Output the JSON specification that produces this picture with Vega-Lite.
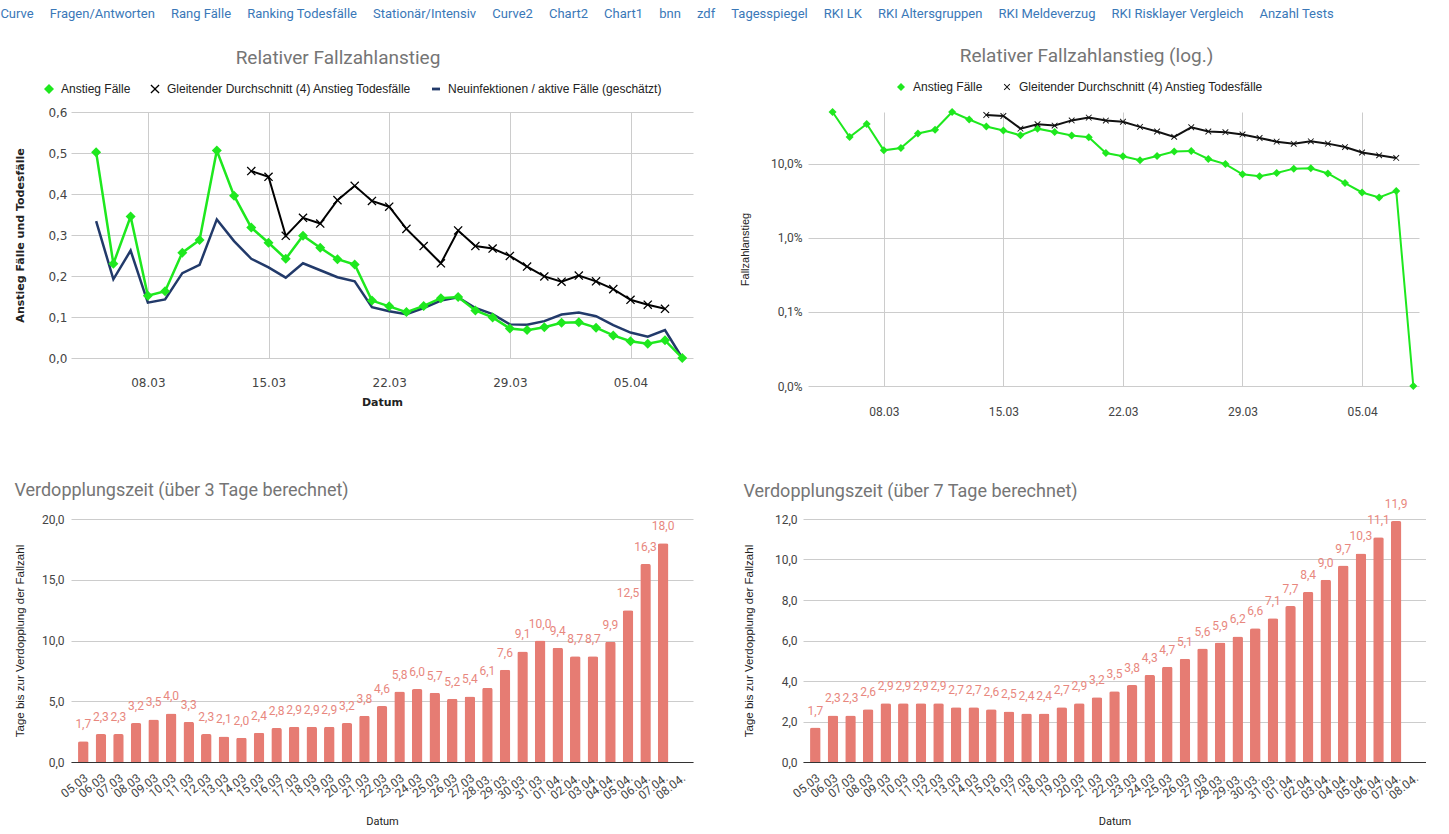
{
  "$schema": "https://vega.github.io/schema/vega-lite/v6.json",
  "background": "#ffffff",
  "padding": {"left": 0, "top": 8, "right": 0, "bottom": 0},
  "config": {
    "locale": {"number": {"decimal": ",", "thousands": ".", "grouping": [3], "currency": ["", " €"]}},
    "view": {"stroke": null},
    "axis": {"domain": false, "ticks": false, "gridColor": "#cccccc", "labelColor": "#444444", "titleColor": "#222222", "labelFont": "Roboto", "titleFont": "Roboto", "labelFontSize": 12, "titleFontWeight": "normal"},
    "legend": {"labelLimit": 400, "direction": "horizontal", "labelFont": "Liberation Sans", "labelFontSize": 12, "labelColor": "#222222", "symbolSize": 100, "columnPadding": 18, "labelOffset": 6, "symbolStrokeWidth": 0}
  },
  "title": {"text": "Curve\u00a0\u00a0\u00a0\u00a0\u00a0Fragen/Antworten\u00a0\u00a0\u00a0\u00a0\u00a0Rang Fälle\u00a0\u00a0\u00a0\u00a0\u00a0Ranking Todesfälle\u00a0\u00a0\u00a0\u00a0\u00a0Stationär/Intensiv\u00a0\u00a0\u00a0\u00a0\u00a0Curve2\u00a0\u00a0\u00a0\u00a0\u00a0Chart2\u00a0\u00a0\u00a0\u00a0\u00a0Chart1\u00a0\u00a0\u00a0\u00a0\u00a0bnn\u00a0\u00a0\u00a0\u00a0\u00a0zdf\u00a0\u00a0\u00a0\u00a0\u00a0Tagesspiegel\u00a0\u00a0\u00a0\u00a0\u00a0RKI LK\u00a0\u00a0\u00a0\u00a0\u00a0RKI Altersgruppen\u00a0\u00a0\u00a0\u00a0\u00a0RKI Meldeverzug\u00a0\u00a0\u00a0\u00a0\u00a0RKI Risklayer Vergleich\u00a0\u00a0\u00a0\u00a0\u00a0Anzahl Tests", "anchor": "start", "frame": "bounds", "font": "Roboto", "fontSize": 13, "fontWeight": "normal", "color": "#3a78b8", "dx": -14, "offset": 26},
  "datasets": {
    "rel": [
      {"date": "2020-03-05", "series": "Anstieg Fälle", "value": 0.502},
      {"date": "2020-03-06", "series": "Anstieg Fälle", "value": 0.230},
      {"date": "2020-03-07", "series": "Anstieg Fälle", "value": 0.345},
      {"date": "2020-03-08", "series": "Anstieg Fälle", "value": 0.152},
      {"date": "2020-03-09", "series": "Anstieg Fälle", "value": 0.163},
      {"date": "2020-03-10", "series": "Anstieg Fälle", "value": 0.257},
      {"date": "2020-03-11", "series": "Anstieg Fälle", "value": 0.288},
      {"date": "2020-03-12", "series": "Anstieg Fälle", "value": 0.506},
      {"date": "2020-03-13", "series": "Anstieg Fälle", "value": 0.396},
      {"date": "2020-03-14", "series": "Anstieg Fälle", "value": 0.318},
      {"date": "2020-03-15", "series": "Anstieg Fälle", "value": 0.281},
      {"date": "2020-03-16", "series": "Anstieg Fälle", "value": 0.242},
      {"date": "2020-03-17", "series": "Anstieg Fälle", "value": 0.298},
      {"date": "2020-03-18", "series": "Anstieg Fälle", "value": 0.269},
      {"date": "2020-03-19", "series": "Anstieg Fälle", "value": 0.241},
      {"date": "2020-03-20", "series": "Anstieg Fälle", "value": 0.228},
      {"date": "2020-03-21", "series": "Anstieg Fälle", "value": 0.140},
      {"date": "2020-03-22", "series": "Anstieg Fälle", "value": 0.126},
      {"date": "2020-03-23", "series": "Anstieg Fälle", "value": 0.112},
      {"date": "2020-03-24", "series": "Anstieg Fälle", "value": 0.127},
      {"date": "2020-03-25", "series": "Anstieg Fälle", "value": 0.146},
      {"date": "2020-03-26", "series": "Anstieg Fälle", "value": 0.149},
      {"date": "2020-03-27", "series": "Anstieg Fälle", "value": 0.116},
      {"date": "2020-03-28", "series": "Anstieg Fälle", "value": 0.099},
      {"date": "2020-03-29", "series": "Anstieg Fälle", "value": 0.072},
      {"date": "2020-03-30", "series": "Anstieg Fälle", "value": 0.068},
      {"date": "2020-03-31", "series": "Anstieg Fälle", "value": 0.075},
      {"date": "2020-04-01", "series": "Anstieg Fälle", "value": 0.086},
      {"date": "2020-04-02", "series": "Anstieg Fälle", "value": 0.087},
      {"date": "2020-04-03", "series": "Anstieg Fälle", "value": 0.074},
      {"date": "2020-04-04", "series": "Anstieg Fälle", "value": 0.055},
      {"date": "2020-04-05", "series": "Anstieg Fälle", "value": 0.041},
      {"date": "2020-04-06", "series": "Anstieg Fälle", "value": 0.035},
      {"date": "2020-04-07", "series": "Anstieg Fälle", "value": 0.043},
      {"date": "2020-04-08", "series": "Anstieg Fälle", "value": 0},
      {"date": "2020-03-14", "series": "Gleitender Durchschnitt (4) Anstieg Todesfälle", "value": 0.456},
      {"date": "2020-03-15", "series": "Gleitender Durchschnitt (4) Anstieg Todesfälle", "value": 0.442},
      {"date": "2020-03-16", "series": "Gleitender Durchschnitt (4) Anstieg Todesfälle", "value": 0.298},
      {"date": "2020-03-17", "series": "Gleitender Durchschnitt (4) Anstieg Todesfälle", "value": 0.342},
      {"date": "2020-03-18", "series": "Gleitender Durchschnitt (4) Anstieg Todesfälle", "value": 0.328},
      {"date": "2020-03-19", "series": "Gleitender Durchschnitt (4) Anstieg Todesfälle", "value": 0.385},
      {"date": "2020-03-20", "series": "Gleitender Durchschnitt (4) Anstieg Todesfälle", "value": 0.420},
      {"date": "2020-03-21", "series": "Gleitender Durchschnitt (4) Anstieg Todesfälle", "value": 0.383},
      {"date": "2020-03-22", "series": "Gleitender Durchschnitt (4) Anstieg Todesfälle", "value": 0.369},
      {"date": "2020-03-23", "series": "Gleitender Durchschnitt (4) Anstieg Todesfälle", "value": 0.315},
      {"date": "2020-03-24", "series": "Gleitender Durchschnitt (4) Anstieg Todesfälle", "value": 0.273},
      {"date": "2020-03-25", "series": "Gleitender Durchschnitt (4) Anstieg Todesfälle", "value": 0.231},
      {"date": "2020-03-26", "series": "Gleitender Durchschnitt (4) Anstieg Todesfälle", "value": 0.311},
      {"date": "2020-03-27", "series": "Gleitender Durchschnitt (4) Anstieg Todesfälle", "value": 0.273},
      {"date": "2020-03-28", "series": "Gleitender Durchschnitt (4) Anstieg Todesfälle", "value": 0.267},
      {"date": "2020-03-29", "series": "Gleitender Durchschnitt (4) Anstieg Todesfälle", "value": 0.249},
      {"date": "2020-03-30", "series": "Gleitender Durchschnitt (4) Anstieg Todesfälle", "value": 0.223},
      {"date": "2020-03-31", "series": "Gleitender Durchschnitt (4) Anstieg Todesfälle", "value": 0.199},
      {"date": "2020-04-01", "series": "Gleitender Durchschnitt (4) Anstieg Todesfälle", "value": 0.186},
      {"date": "2020-04-02", "series": "Gleitender Durchschnitt (4) Anstieg Todesfälle", "value": 0.201},
      {"date": "2020-04-03", "series": "Gleitender Durchschnitt (4) Anstieg Todesfälle", "value": 0.187},
      {"date": "2020-04-04", "series": "Gleitender Durchschnitt (4) Anstieg Todesfälle", "value": 0.168},
      {"date": "2020-04-05", "series": "Gleitender Durchschnitt (4) Anstieg Todesfälle", "value": 0.142},
      {"date": "2020-04-06", "series": "Gleitender Durchschnitt (4) Anstieg Todesfälle", "value": 0.130},
      {"date": "2020-04-07", "series": "Gleitender Durchschnitt (4) Anstieg Todesfälle", "value": 0.120},
      {"date": "2020-03-05", "series": "Neuinfektionen / aktive Fälle (geschätzt)", "value": 0.334},
      {"date": "2020-03-06", "series": "Neuinfektionen / aktive Fälle (geschätzt)", "value": 0.192},
      {"date": "2020-03-07", "series": "Neuinfektionen / aktive Fälle (geschätzt)", "value": 0.262},
      {"date": "2020-03-08", "series": "Neuinfektionen / aktive Fälle (geschätzt)", "value": 0.135},
      {"date": "2020-03-09", "series": "Neuinfektionen / aktive Fälle (geschätzt)", "value": 0.143},
      {"date": "2020-03-10", "series": "Neuinfektionen / aktive Fälle (geschätzt)", "value": 0.207},
      {"date": "2020-03-11", "series": "Neuinfektionen / aktive Fälle (geschätzt)", "value": 0.227},
      {"date": "2020-03-12", "series": "Neuinfektionen / aktive Fälle (geschätzt)", "value": 0.338},
      {"date": "2020-03-13", "series": "Neuinfektionen / aktive Fälle (geschätzt)", "value": 0.285},
      {"date": "2020-03-14", "series": "Neuinfektionen / aktive Fälle (geschätzt)", "value": 0.242},
      {"date": "2020-03-15", "series": "Neuinfektionen / aktive Fälle (geschätzt)", "value": 0.221},
      {"date": "2020-03-16", "series": "Neuinfektionen / aktive Fälle (geschätzt)", "value": 0.196},
      {"date": "2020-03-17", "series": "Neuinfektionen / aktive Fälle (geschätzt)", "value": 0.231},
      {"date": "2020-03-18", "series": "Neuinfektionen / aktive Fälle (geschätzt)", "value": 0.214},
      {"date": "2020-03-19", "series": "Neuinfektionen / aktive Fälle (geschätzt)", "value": 0.197},
      {"date": "2020-03-20", "series": "Neuinfektionen / aktive Fälle (geschätzt)", "value": 0.187},
      {"date": "2020-03-21", "series": "Neuinfektionen / aktive Fälle (geschätzt)", "value": 0.124},
      {"date": "2020-03-22", "series": "Neuinfektionen / aktive Fälle (geschätzt)", "value": 0.114},
      {"date": "2020-03-23", "series": "Neuinfektionen / aktive Fälle (geschätzt)", "value": 0.107},
      {"date": "2020-03-24", "series": "Neuinfektionen / aktive Fälle (geschätzt)", "value": 0.122},
      {"date": "2020-03-25", "series": "Neuinfektionen / aktive Fälle (geschätzt)", "value": 0.140},
      {"date": "2020-03-26", "series": "Neuinfektionen / aktive Fälle (geschätzt)", "value": 0.148},
      {"date": "2020-03-27", "series": "Neuinfektionen / aktive Fälle (geschätzt)", "value": 0.122},
      {"date": "2020-03-28", "series": "Neuinfektionen / aktive Fälle (geschätzt)", "value": 0.107},
      {"date": "2020-03-29", "series": "Neuinfektionen / aktive Fälle (geschätzt)", "value": 0.082},
      {"date": "2020-03-30", "series": "Neuinfektionen / aktive Fälle (geschätzt)", "value": 0.081},
      {"date": "2020-03-31", "series": "Neuinfektionen / aktive Fälle (geschätzt)", "value": 0.090},
      {"date": "2020-04-01", "series": "Neuinfektionen / aktive Fälle (geschätzt)", "value": 0.106},
      {"date": "2020-04-02", "series": "Neuinfektionen / aktive Fälle (geschätzt)", "value": 0.111},
      {"date": "2020-04-03", "series": "Neuinfektionen / aktive Fälle (geschätzt)", "value": 0.102},
      {"date": "2020-04-04", "series": "Neuinfektionen / aktive Fälle (geschätzt)", "value": 0.080},
      {"date": "2020-04-05", "series": "Neuinfektionen / aktive Fälle (geschätzt)", "value": 0.062},
      {"date": "2020-04-06", "series": "Neuinfektionen / aktive Fälle (geschätzt)", "value": 0.052},
      {"date": "2020-04-07", "series": "Neuinfektionen / aktive Fälle (geschätzt)", "value": 0.068},
      {"date": "2020-04-08", "series": "Neuinfektionen / aktive Fälle (geschätzt)", "value": 0}
    ],
    "dbl": [
      {"day": "05.03", "d3": 1.7, "d7": 1.7},
      {"day": "06.03", "d3": 2.3, "d7": 2.3},
      {"day": "07.03", "d3": 2.3, "d7": 2.3},
      {"day": "08.03", "d3": 3.2, "d7": 2.6},
      {"day": "09.03", "d3": 3.5, "d7": 2.9},
      {"day": "10.03", "d3": 4.0, "d7": 2.9},
      {"day": "11.03", "d3": 3.3, "d7": 2.9},
      {"day": "12.03", "d3": 2.3, "d7": 2.9},
      {"day": "13.03", "d3": 2.1, "d7": 2.7},
      {"day": "14.03", "d3": 2.0, "d7": 2.7},
      {"day": "15.03", "d3": 2.4, "d7": 2.6},
      {"day": "16.03", "d3": 2.8, "d7": 2.5},
      {"day": "17.03", "d3": 2.9, "d7": 2.4},
      {"day": "18.03", "d3": 2.9, "d7": 2.4},
      {"day": "19.03", "d3": 2.9, "d7": 2.7},
      {"day": "20.03", "d3": 3.2, "d7": 2.9},
      {"day": "21.03", "d3": 3.8, "d7": 3.2},
      {"day": "22.03", "d3": 4.6, "d7": 3.5},
      {"day": "23.03", "d3": 5.8, "d7": 3.8},
      {"day": "24.03", "d3": 6.0, "d7": 4.3},
      {"day": "25.03", "d3": 5.7, "d7": 4.7},
      {"day": "26.03", "d3": 5.2, "d7": 5.1},
      {"day": "27.03", "d3": 5.4, "d7": 5.6},
      {"day": "28.03.", "d3": 6.1, "d7": 5.9},
      {"day": "29.03.", "d3": 7.6, "d7": 6.2},
      {"day": "30.03.", "d3": 9.1, "d7": 6.6},
      {"day": "31.03.", "d3": 10.0, "d7": 7.1},
      {"day": "01.04.", "d3": 9.4, "d7": 7.7},
      {"day": "02.04.", "d3": 8.7, "d7": 8.4},
      {"day": "03.04.", "d3": 8.7, "d7": 9.0},
      {"day": "04.04.", "d3": 9.9, "d7": 9.7},
      {"day": "05.04.", "d3": 12.5, "d7": 10.3},
      {"day": "06.04.", "d3": 16.3, "d7": 11.1},
      {"day": "07.04.", "d3": 18.0, "d7": 11.9},
      {"day": "08.04.", "d3": null, "d7": null}
    ]
  },
  "spacing": 65,
  "resolve": {"scale": {"color": "independent", "shape": "independent", "size": "independent"}, "legend": {"color": "independent", "shape": "independent", "size": "independent"}},
  "vconcat": [
    {
      "spacing": 46,
      "resolve": {"scale": {"color": "independent", "shape": "independent", "size": "independent"}, "legend": {"color": "independent", "shape": "independent", "size": "independent"}},
      "hconcat": [
        {
          "width": 622,
          "height": 246,
          "title": {"text": "Relativer Fallzahlanstieg", "font": "Roboto", "fontSize": 19, "fontWeight": "normal", "color": "#757575", "anchor": "middle", "frame": "group", "dx": -44, "offset": 15},
          "data": {"name": "rel"},
          "encoding": {
            "x": {"field": "date", "type": "temporal",
              "scale": {"type": "utc", "domain": [{"year": 2020, "month": 3, "date": 3, "hours": 13, "utc": true}, {"year": 2020, "month": 4, "date": 8, "hours": 15, "utc": true}]},
              "axis": {"values": [{"year": 2020, "month": 3, "date": 8, "utc": true}, {"year": 2020, "month": 3, "date": 15, "utc": true}, {"year": 2020, "month": 3, "date": 22, "utc": true}, {"year": 2020, "month": 3, "date": 29, "utc": true}, {"year": 2020, "month": 4, "date": 5, "utc": true}],
                "format": "%d.%m", "grid": true, "title": "Datum", "titleFont": "DejaVu Sans", "titleFontWeight": "bold", "titleFontSize": 11, "labelFont": "DejaVu Sans", "labelFontSize": 12, "labelPadding": 19, "titlePadding": 8}},
            "y": {"field": "value", "type": "quantitative", "scale": {"domain": [0, 0.6]},
              "axis": {"values": [0, 0.1, 0.2, 0.3, 0.4, 0.5, 0.6], "format": ".1f", "title": "Anstieg Fälle und Todesfälle", "titleFont": "DejaVu Sans", "titleFontWeight": "bold", "titleFontSize": 11, "labelFont": "DejaVu Sans", "labelFontSize": 12, "labelPadding": 4, "titlePadding": 22}}
          },
          "layer": [
            {
              "transform": [{"filter": "datum.series == 'Neuinfektionen / aktive Fälle (geschätzt)'"}],
              "mark": {"type": "line", "color": "#223a6a", "strokeWidth": 2.5}
            },
            {
              "transform": [{"filter": "datum.series == 'Anstieg Fälle'"}],
              "mark": {"type": "line", "color": "#1ee81e", "strokeWidth": 2.5}
            },
            {
              "transform": [{"filter": "datum.series == 'Gleitender Durchschnitt (4) Anstieg Todesfälle'"}],
              "mark": {"type": "line", "color": "#000000", "strokeWidth": 2}
            },
            {
              "transform": [{"filter": "datum.series != 'Neuinfektionen / aktive Fälle (geschätzt)'"}],
              "mark": {"type": "point", "filled": true, "opacity": 1},
              "encoding": {
                "color": {"field": "series", "type": "nominal", "title": null, "scale": {"domain": ["Anstieg Fälle", "Gleitender Durchschnitt (4) Anstieg Todesfälle", "Neuinfektionen / aktive Fälle (geschätzt)"], "range": ["#1ee81e", "#000000", "#223a6a"]},
                  "legend": {"orient": "none", "legendX": -28, "legendY": -29, "direction": "horizontal"}},
                "shape": {"field": "series", "type": "nominal", "title": null, "scale": {"domain": ["Anstieg Fälle", "Gleitender Durchschnitt (4) Anstieg Todesfälle", "Neuinfektionen / aktive Fälle (geschätzt)"], "range": ["diamond", "M-1,-0.8L-0.8,-1L0,-0.2L0.8,-1L1,-0.8L0.2,0L1,0.8L0.8,1L0,0.2L-0.8,1L-1,0.8L-0.2,0Z", "M-1,-0.35L1,-0.35L1,0.35L-1,0.35Z"]},
                  "legend": {"orient": "none", "legendX": -28, "legendY": -29, "direction": "horizontal"}},
                "size": {"field": "series", "type": "nominal", "title": null, "scale": {"domain": ["Anstieg Fälle", "Gleitender Durchschnitt (4) Anstieg Todesfälle", "Neuinfektionen / aktive Fälle (geschätzt)"], "range": [100, 64, 110]},
                  "legend": {"orient": "none", "legendX": -28, "legendY": -29, "direction": "horizontal"}}
              }
            }
          ]
        },
        {
          "width": 611,
          "height": 274,
          "title": {"text": "Relativer Fallzahlanstieg (log.)", "font": "Roboto", "fontSize": 19, "fontWeight": "normal", "color": "#757575", "anchor": "middle", "frame": "group", "dx": -27, "offset": 15},
          "data": {"name": "rel"},
          "transform": [{"filter": "datum.series != 'Neuinfektionen / aktive Fälle (geschätzt)'"}],
          "encoding": {
            "x": {"field": "date", "type": "temporal",
              "scale": {"type": "utc", "domain": [{"year": 2020, "month": 3, "date": 3, "hours": 13, "minutes": 30, "utc": true}, {"year": 2020, "month": 4, "date": 8, "hours": 8, "utc": true}]},
              "axis": {"values": [{"year": 2020, "month": 3, "date": 8, "utc": true}, {"year": 2020, "month": 3, "date": 15, "utc": true}, {"year": 2020, "month": 3, "date": 22, "utc": true}, {"year": 2020, "month": 3, "date": 29, "utc": true}, {"year": 2020, "month": 4, "date": 5, "utc": true}],
                "format": "%d.%m", "grid": true, "title": null, "labelFontSize": 12, "labelPadding": 20}},
            "y": {"field": "value", "type": "quantitative", "scale": {"type": "log", "domain": [0.0001, 0.5], "clamp": true},
              "axis": {"values": [0.0001, 0.001, 0.01, 0.1], "format": ".1%", "title": "Fallzahlanstieg", "titleFont": "Liberation Sans", "titleFontSize": 11, "labelPadding": 6, "titlePadding": 20}}
          },
          "layer": [
            {
              "transform": [{"filter": "datum.series == 'Anstieg Fälle'"}],
              "mark": {"type": "line", "color": "#1ee81e", "strokeWidth": 2}
            },
            {
              "transform": [{"filter": "datum.series == 'Gleitender Durchschnitt (4) Anstieg Todesfälle'"}],
              "mark": {"type": "line", "color": "#111111", "strokeWidth": 2}
            },
            {
              "mark": {"type": "point", "filled": true, "opacity": 1},
              "encoding": {
                "color": {"field": "series", "type": "nominal", "title": null, "scale": {"domain": ["Anstieg Fälle", "Gleitender Durchschnitt (4) Anstieg Todesfälle"], "range": ["#1ee81e", "#111111"]},
                  "legend": {"orient": "none", "legendX": 87, "legendY": -31, "direction": "horizontal"}},
                "shape": {"field": "series", "type": "nominal", "title": null, "scale": {"domain": ["Anstieg Fälle", "Gleitender Durchschnitt (4) Anstieg Todesfälle"], "range": ["diamond", "M-1,-0.8L-0.8,-1L0,-0.2L0.8,-1L1,-0.8L0.2,0L1,0.8L0.8,1L0,0.2L-0.8,1L-1,0.8L-0.2,0Z"]},
                  "legend": {"orient": "none", "legendX": 87, "legendY": -31, "direction": "horizontal"}},
                "size": {"field": "series", "type": "nominal", "title": null, "scale": {"domain": ["Anstieg Fälle", "Gleitender Durchschnitt (4) Anstieg Todesfälle"], "range": [64, 40]},
                  "legend": {"orient": "none", "legendX": 87, "legendY": -31, "direction": "horizontal"}}
              }
            }
          ]
        }
      ]
    },
    {
      "spacing": 50,
      "hconcat": [
        {
          "width": 622,
          "height": 243,
          "title": {"text": "Verdopplungszeit (über 3 Tage berechnet)", "font": "Roboto", "fontSize": 18, "fontWeight": "normal", "color": "#757575", "anchor": "start", "frame": "bounds", "offset": 13},
          "data": {"name": "dbl"},
          "encoding": {
            "x": {"field": "day", "type": "ordinal", "sort": null,
              "scale": {"domain": ["05.03","06.03","07.03","08.03","09.03","10.03","11.03","12.03","13.03","14.03","15.03","16.03","17.03","18.03","19.03","20.03","21.03","22.03","23.03","24.03","25.03","26.03","27.03","28.03.","29.03.","30.03.","31.03.","01.04.","02.04.","03.04.","04.04.","05.04.","06.04.","07.04.","08.04."], "paddingInner": 0.4, "paddingOuter": 0.4},
              "axis": {"title": "Datum", "labelAngle": -38, "labelAlign": "right", "labelBaseline": "top", "labelPadding": 10, "titlePadding": 14, "domain": true, "domainColor": "#333333", "grid": false}},
            "y": {"field": "d3", "type": "quantitative", "scale": {"domain": [0, 20]},
              "axis": {"values": [0, 5, 10, 15, 20], "format": ".1f", "title": "Tage bis zur Verdopplung der Fallzahl", "titleFont": "Liberation Sans", "titleFontSize": 11.5, "labelPadding": 7, "titlePadding": 16}}
          },
          "layer": [
            {"mark": {"type": "bar", "color": "#e67c73", "cornerRadiusTopLeft": 2, "cornerRadiusTopRight": 2}},
            {"mark": {"type": "text", "dy": -17, "baseline": "middle", "font": "Roboto", "fontSize": 12, "color": "#e8877e"},
              "encoding": {"text": {"field": "d3", "type": "quantitative", "format": ".1f"}}}
          ]
        },
        {
          "width": 623,
          "height": 243,
          "title": {"text": "Verdopplungszeit (über 7 Tage berechnet)", "font": "Roboto", "fontSize": 18, "fontWeight": "normal", "color": "#757575", "anchor": "start", "frame": "bounds", "offset": -3},
          "data": {"name": "dbl"},
          "encoding": {
            "x": {"field": "day", "type": "ordinal", "sort": null,
              "scale": {"domain": ["05.03","06.03","07.03","08.03","09.03","10.03","11.03","12.03","13.03","14.03","15.03","16.03","17.03","18.03","19.03","20.03","21.03","22.03","23.03","24.03","25.03","26.03","27.03","28.03.","29.03.","30.03.","31.03.","01.04.","02.04.","03.04.","04.04.","05.04.","06.04.","07.04.","08.04."], "paddingInner": 0.4, "paddingOuter": 0.4},
              "axis": {"title": "Datum", "labelAngle": -38, "labelAlign": "right", "labelBaseline": "top", "labelPadding": 10, "titlePadding": 14, "domain": true, "domainColor": "#333333", "grid": false}},
            "y": {"field": "d7", "type": "quantitative", "scale": {"domain": [0, 12]},
              "axis": {"values": [0, 2, 4, 6, 8, 10, 12], "format": ".1f", "title": "Tage bis zur Verdopplung der Fallzahl", "titleFont": "Liberation Sans", "titleFontSize": 11.5, "labelPadding": 6, "titlePadding": 20}}
          },
          "layer": [
            {"mark": {"type": "bar", "color": "#e67c73", "cornerRadiusTopLeft": 2, "cornerRadiusTopRight": 2}},
            {"mark": {"type": "text", "dy": -17, "baseline": "middle", "font": "Roboto", "fontSize": 12, "color": "#e8877e"},
              "encoding": {"text": {"field": "d7", "type": "quantitative", "format": ".1f"}}}
          ]
        }
      ]
    }
  ]
}
